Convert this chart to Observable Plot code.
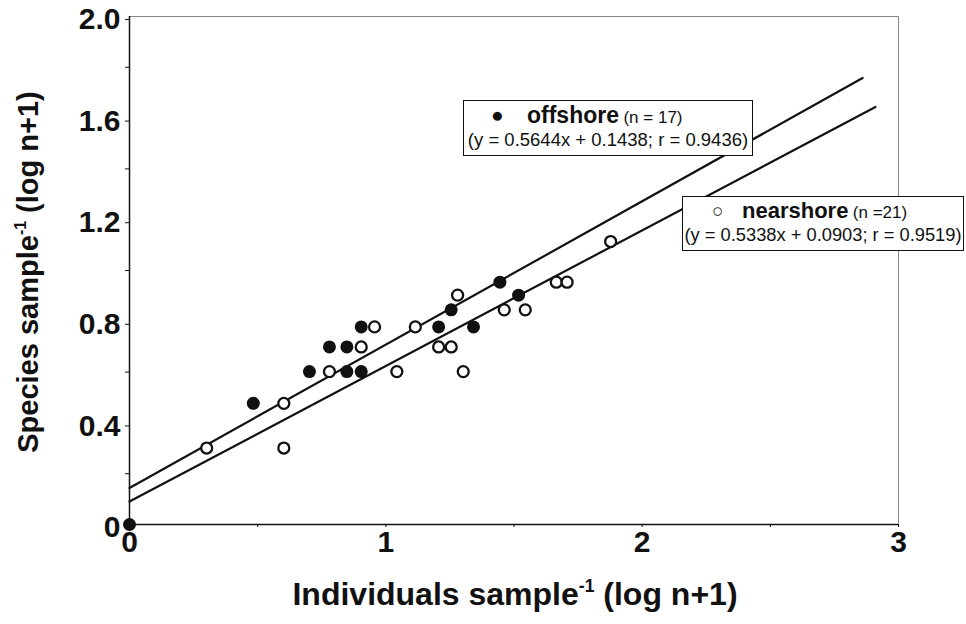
<!DOCTYPE html>
<html><head><meta charset="utf-8">
<script src="https://cdn.jsdelivr.net/npm/d3@7"></script>
<script src="https://cdn.jsdelivr.net/npm/@observablehq/plot@0.6"></script>
<style>
body{margin:0;background:#fff;}
#wrap{position:relative;width:966px;height:624px;font-family:"Liberation Sans",Arial,sans-serif;color:#111;}
.box{position:absolute;border:1.6px solid #111;background:#fff;box-sizing:border-box;}
.ln{position:absolute;left:0;right:0;text-align:center;white-space:nowrap;}
.ab{position:absolute;white-space:nowrap;}
.ttl{position:absolute;font-weight:bold;white-space:nowrap;}
sup{font-size:0.55em;vertical-align:0.75em;line-height:0;}
</style></head><body><div id="wrap"></div>
<script>
// offshore (filled) points, log(n+1)
const offX = [0, 0.483, 0.702, 0.780, 0.848, 0.848, 0.904, 0.904, 1.206, 1.255, 1.342, 1.445, 1.518];
const offY = [0, 0.477, 0.602, 0.699, 0.699, 0.602, 0.778, 0.602, 0.778, 0.845, 0.778, 0.954, 0.903];
// nearshore (open) points
const nearX = [0.301, 0.602, 0.602, 0.780, 0.904, 0.956, 1.043, 1.115, 1.206, 1.255, 1.280, 1.302, 1.462, 1.544, 1.665, 1.707, 1.877];
const nearY = [0.301, 0.477, 0.301, 0.602, 0.699, 0.778, 0.602, 0.778, 0.699, 0.699, 0.903, 0.602, 0.845, 0.845, 0.954, 0.954, 1.114];
// regression lines
const fitSeries = ["offshore", "nearshore"];
const fitSlope = [0.5644, 0.5338];
const fitIntercept = [0.1438, 0.0903];
const fitXmax = [2.86, 2.91];
// ticks
const xTicks = [0, 1, 2, 3];
const xMinor = [0.5, 1.5, 2.5];
const yTicks = [0, 0.4, 0.8, 1.2, 1.6, 2.0];
const yMinor = [0.2, 0.6, 1.0, 1.4, 1.8];

const offRows = offX.map((x, i) => ({x, y: offY[i]}));
const nearRows = nearX.map((x, i) => ({x, y: nearY[i]}));
const fitRows = fitSeries.flatMap((s, i) => [
  {s, x: 0, y: fitIntercept[i]},
  {s, x: fitXmax[i], y: fitSlope[i] * fitXmax[i] + fitIntercept[i]}
]);

const plot = Plot.plot({
  width: 966, height: 624,
  marginLeft: 129, marginRight: 68, marginTop: 16, marginBottom: 100,
  style: {fontFamily: "Liberation Sans, Arial, sans-serif", background: "white", color: "#111"},
  x: {domain: [0, 3]},
  y: {domain: [0, 2]},
  marks: [
    Plot.frame({stroke: "#888", strokeWidth: 1}),
    Plot.axisX({ticks: xMinor, tickFormat: () => "", label: null, tickSize: 3}),
    Plot.axisX({ticks: xTicks, tickFormat: d => String(d), label: null, tickSize: 3, tickPadding: 3, fontSize: 30, fontWeight: "bold"}),
    Plot.axisY({ticks: yMinor, tickFormat: () => "", label: null, tickSize: 4}),
    Plot.axisY({ticks: yTicks, tickFormat: d => d === 0 ? "0" : d.toFixed(1), label: null, tickSize: 4, tickPadding: 5, fontSize: 30, fontWeight: "bold", dy: 3}),
    Plot.ruleX([0], {stroke: "#111", strokeWidth: 1.5}),
    Plot.ruleY([0], {stroke: "#111", strokeWidth: 1.5}),
    Plot.line(fitRows, {x: "x", y: "y", z: "s", stroke: "#111", strokeWidth: 2.2}),
    Plot.dot(nearRows, {x: "x", y: "y", r: 5.5, fill: "white", stroke: "#111", strokeWidth: 2.3}),
    Plot.dot(offRows, {x: "x", y: "y", r: 6.5, fill: "#111", stroke: "none"})
  ]
});
const wrap = document.getElementById("wrap");
wrap.appendChild(plot);

function add(html) { wrap.insertAdjacentHTML("beforeend", html); }
add(`<div class="box" style="left:463px;top:100px;width:290px;height:56px;">
  <span class="ab" style="left:27px;top:2px;font-size:21px;">●</span>
  <span class="ab" style="left:63px;top:1px;"><b style="font-size:23px;">offshore</b> <span style="font-size:17px;">(n = 17)</span></span>
  <div class="ln" style="top:28px;font-size:18.5px;">(y = 0.5644x + 0.1438; r = 0.9436)</div>
</div>`);
add(`<div class="box" style="left:682px;top:196px;width:282px;height:55px;">
  <span class="ab" style="left:29px;top:3px;font-size:19px;">○</span>
  <span class="ab" style="left:59px;top:1px;"><b style="font-size:22px;">nearshore</b> <span style="font-size:17px;">(n =21)</span></span>
  <div class="ln" style="top:27px;font-size:18.3px;">(y = 0.5338x + 0.0903; r = 0.9519)</div>
</div>`);
add(`<div class="ttl" style="left:515px;top:576px;transform:translateX(-50%);font-size:32px;">Individuals sample<sup>-1</sup> (log n+1)</div>`);
add(`<div class="ttl" style="left:28px;top:272px;transform:translate(-50%,-50%) rotate(-90deg);font-size:29px;">Species sample<sup>-1</sup> (log n+1)</div>`);
</script>
</body></html>
